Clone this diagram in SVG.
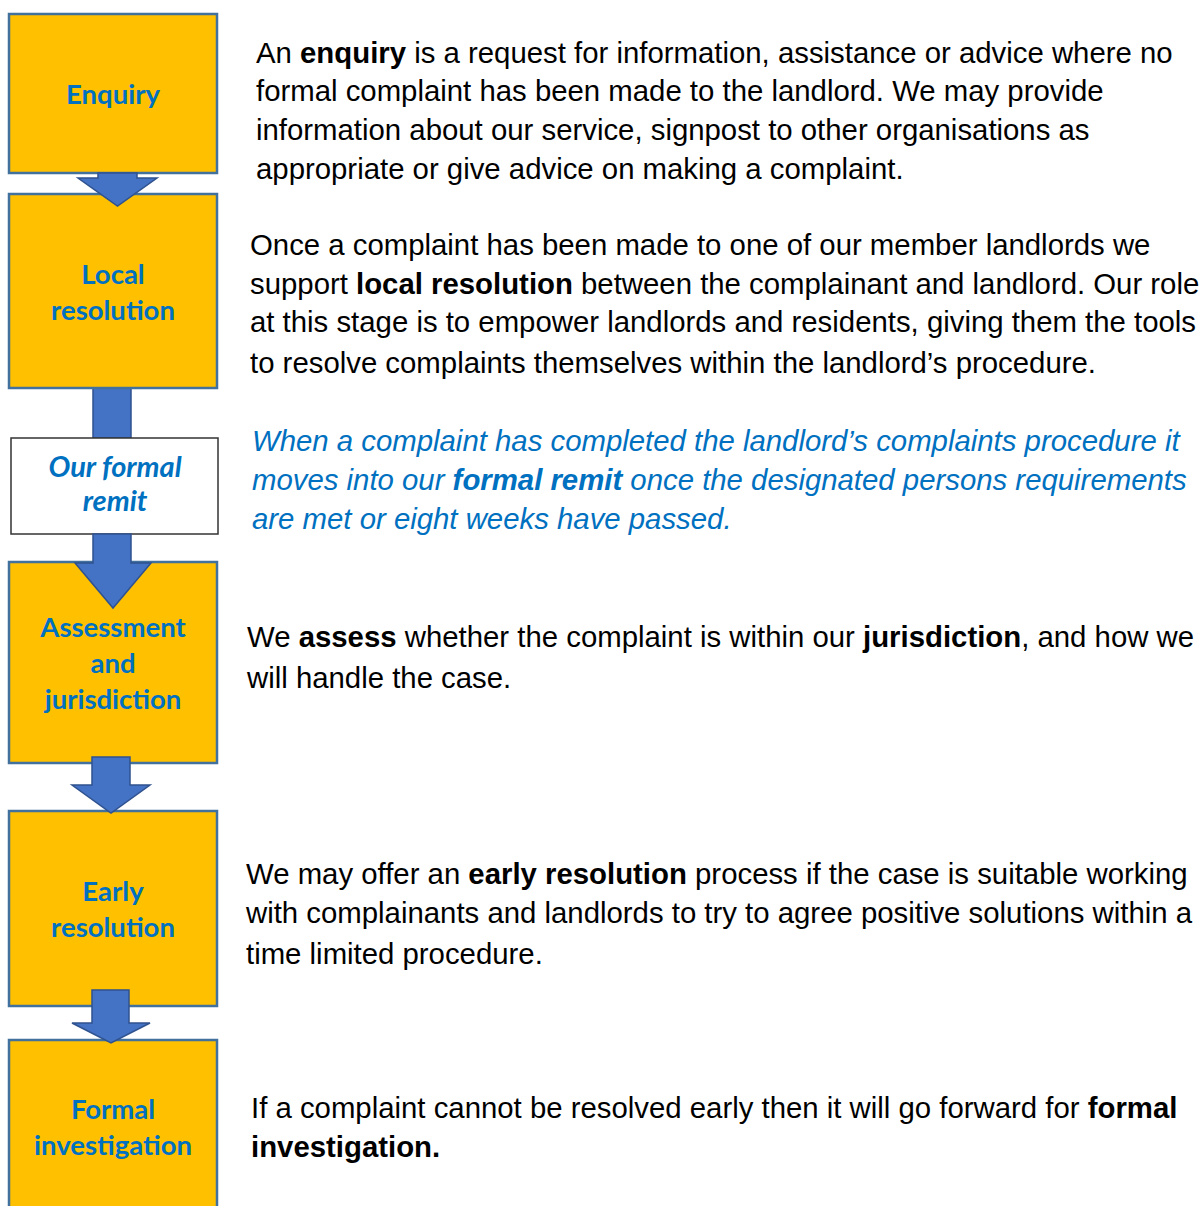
<svg xmlns="http://www.w3.org/2000/svg" width="1203" height="1206" viewBox="0 0 1203 1206">
<style>
.box{fill:#FFC000;stroke:#41719C;stroke-width:2.5}
.remit{fill:#FFFFFF;stroke:#333333;stroke-width:1.5}
.lbl{font-family:Lato,"Open Sans",sans-serif;font-weight:bold;font-size:27.5px;fill:#0070C0;text-anchor:middle}
.lbli{font-family:Lato,"Open Sans",sans-serif;font-weight:bold;font-style:italic;font-size:29px;fill:#0070C0;text-anchor:middle}
.arr{fill:#4472C4;stroke:#2F528F;stroke-width:1.5}
.t{font-family:"Liberation Sans",Arial,sans-serif;font-size:29.35px;fill:#000000}
.ti{font-family:"Liberation Sans",Arial,sans-serif;font-size:29.35px;font-style:italic;fill:#0070C0}
.b{font-weight:bold}
</style>
<rect width="1203" height="1206" fill="#FFFFFF"/>
<g id="connector-under">
<rect class="arr" x="93" y="388" width="38" height="50"/>
</g>
<g id="enquiry">
<rect class="box" x="9" y="14" width="208" height="159"/>
<text class="lbl" x="113" y="104">Enquiry</text>
</g>
<g id="local-resolution">
<rect class="box" x="9" y="194" width="208" height="194"/>
<text class="lbl" x="113" y="284">Local</text>
<text class="lbl" x="113" y="320">resolution</text>
</g>
<g id="formal-remit">
<rect class="remit" x="11" y="438" width="207" height="96"/>
<text class="lbli" x="115" y="477">Our formal</text>
<text class="lbli" x="115" y="511">remit</text>
</g>
<g id="assessment">
<rect class="box" x="9" y="562" width="208" height="201"/>
<text class="lbl" x="113" y="637">Assessment</text>
<text class="lbl" x="113" y="673">and</text>
<text class="lbl" x="113" y="709">jurisdiction</text>
</g>
<g id="early-resolution">
<rect class="box" x="9" y="811" width="208" height="195"/>
<text class="lbl" x="113" y="901">Early</text>
<text class="lbl" x="113" y="937">resolution</text>
</g>
<g id="formal-investigation">
<rect class="box" x="9" y="1040" width="208" height="180"/>
<text class="lbl" x="113" y="1119">Formal</text>
<text class="lbl" x="113" y="1155">investigation</text>
</g>
<g id="connectors">
<polygon class="arr" points="98,173 137,173 137,178 157,178 117.5,206 78,178 98,178"/>
<polygon class="arr" points="93,534 131,534 131,563 151,563 113,608 75,563 93,563"/>
<polygon class="arr" points="92,757 130,757 130,785 150,785 111,813 72,785 92,785"/>
<polygon class="arr" points="92,990 129,990 129,1023 150,1023 111,1043 72,1023 92,1023"/>
</g>
<g id="texts">
<text class="t" x="256" y="63">An <tspan class="b">enquiry</tspan> is a request for information, assistance or advice where no</text>
<text class="t" x="256" y="101">formal complaint has been made to the landlord. We may provide</text>
<text class="t" x="256" y="140">information about our service, signpost to other organisations as</text>
<text class="t" x="256" y="179">appropriate or give advice on making a complaint.</text>
<text class="t" x="250" y="255">Once a complaint has been made to one of our member landlords we</text>
<text class="t" x="250" y="294">support <tspan class="b">local resolution</tspan> between the complainant and landlord. Our role</text>
<text class="t" x="250" y="332">at this stage is to empower landlords and residents, giving them the tools</text>
<text class="t" x="250" y="373">to resolve complaints themselves within the landlord’s procedure.</text>
<text class="ti" x="252" y="451">When a complaint has completed the landlord’s complaints procedure it</text>
<text class="ti" x="252" y="490">moves into our <tspan class="b">formal remit</tspan> once the designated persons requirements</text>
<text class="ti" x="252" y="529">are met or eight weeks have passed.</text>
<text class="t" x="247" y="647">We <tspan class="b">assess</tspan> whether the complaint is within our <tspan class="b">jurisdiction</tspan>, and how we</text>
<text class="t" x="247" y="688">will handle the case.</text>
<text class="t" x="246" y="884">We may offer an <tspan class="b">early resolution</tspan> process if the case is suitable working</text>
<text class="t" x="246" y="923">with complainants and landlords to try to agree positive solutions within a</text>
<text class="t" x="246" y="964">time limited procedure.</text>
<text class="t" x="251" y="1118">If a complaint cannot be resolved early then it will go forward for <tspan class="b">formal</tspan></text>
<text class="t" x="251" y="1157" font-weight="bold">investigation.</text>
</g>
</svg>
